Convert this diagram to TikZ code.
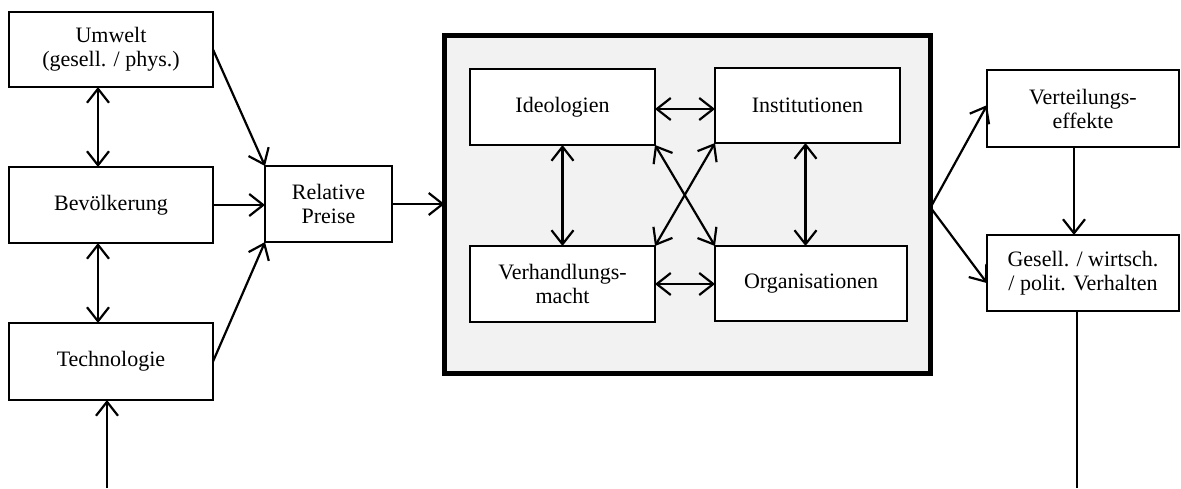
\documentclass[tikz,border=0pt]{standalone}
\usepackage{fontspec}
\setmainfont{Liberation Serif}
\usetikzlibrary{arrows.meta}

\begin{document}
\begin{tikzpicture}[x=1pt,y=-1pt,
  >={Straight Barb[length=14pt,width=22pt]},
  box/.style={draw, line width=2pt, fill=white, inner sep=0pt, outer sep=0pt,
              align=center, font=\fontsize{22}{24}\selectfont},
  ar/.style={line width=2.2pt}]

  \useasboundingbox (0,0) rectangle (1181,488);

  % linke Spalte
  \node[box, minimum width=204pt, minimum height=75pt] (Umw) at (111,49.5) {Umwelt\\(gesell. / phys.)};
  \node[box, minimum width=204pt, minimum height=76pt] (Bev) at (111,205) {Bev\"olkerung};
  \node[box, minimum width=204pt, minimum height=77pt] (Tech) at (111,361.5) {Technologie};
  \node[box, minimum width=127pt, minimum height=76pt] (Pr) at (328.5,204) {Relative\\Preise};

  % System
  \node[draw, line width=5pt, fill=black!5, minimum width=486pt, minimum height=338pt,
        outer sep=0pt] (Sys) at (687.5,204.5) {};
  \node[box, minimum width=185pt, minimum height=76pt] (Ideo) at (562.5,107) {Ideologien};
  \node[box, minimum width=185pt, minimum height=75pt] (Inst) at (807.5,105.5) {Institutionen};
  \node[box, minimum width=185pt, minimum height=76pt] (Macht) at (562.5,284) {Verhandlungs-\\macht};
  \node[box, minimum width=192pt, minimum height=75pt] (Org) at (811,283.5) {Organisationen};

  % rechte Spalte
  \node[box, minimum width=192pt, minimum height=77pt] (Vert) at (1083,108.5) {Verteilungs-\\effekte};
  \node[box, minimum width=192pt, minimum height=76pt] (Verh) at (1083,273) {Gesell. / wirtsch.\\/ polit. Verhalten};

  \coordinate (inT) at (107,488);
  \coordinate (outV) at (1077,488);

  \draw[ar,<->] ([xshift=-13pt]Umw.south) -- ([xshift=-13pt]Bev.north);
  \draw[ar,<->] ([xshift=-13pt]Bev.south) -- ([xshift=-13pt]Tech.north);
  \draw[ar,->] (inT) -- (inT |- Tech.south);
  \draw[ar,->] (Umw.east) -- (Pr.north west);
  \draw[ar,->] (Bev.east) -- (Bev.east -| Pr.west);
  \draw[ar,->] (Tech.east) -- (Pr.south west);
  \draw[ar,->] (Pr.east) -- (Pr.east -| Sys.west);

  \draw[ar,<->] ([yshift=-2pt]Ideo.east) -- ([yshift=-2pt]Ideo.east -| Inst.west);
  \draw[ar,<->] (Macht.east) -- (Macht.east -| Org.west);
  \draw[ar,<->] (Ideo.south) -- (Macht.north);
  \draw[ar,<->] ([xshift=-2pt]Inst.south) -- ([xshift=-2pt]Inst.south |- Org.north);
  \draw[ar,<->] (Ideo.south east) -- (Org.north west);
  \draw[ar,<->] (Macht.north east) -- (Inst.south west);

  \draw[ar,->] ([yshift=-3pt]Sys.east) -- (Vert.178);
  \draw[ar,->] ([yshift=-3pt]Sys.east) -- (Verh.186);
  \draw[ar,->] ([xshift=-9pt]Vert.south) -- ([xshift=-9pt]Verh.north);
  \draw[ar] (outV |- Verh.south) -- (outV);
\end{tikzpicture}
\end{document}
